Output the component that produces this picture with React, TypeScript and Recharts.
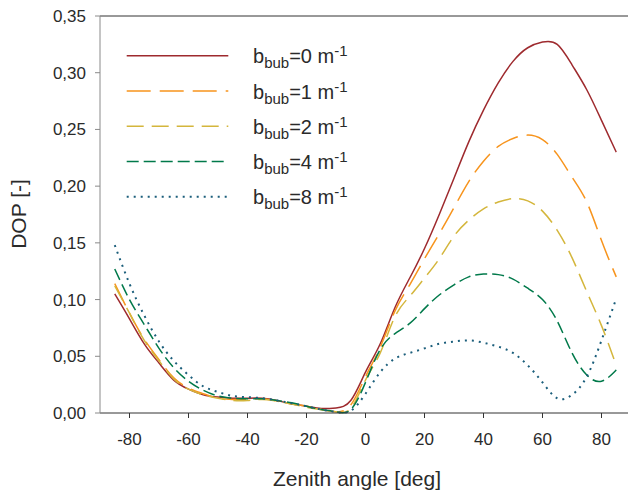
import { LineChart, Line, XAxis, YAxis, Legend, ReferenceLine, Label } from "recharts";

const ANGLES = [
  -85, -80, -75, -70, -65, -60, -55, -50, -45, -40, -35, -30, -25, -20, -15, -10, -5, 0, 5, 10, 15, 20, 25, 30, 35, 40,
  45, 50, 55, 60, 65, 70, 75, 80, 85,
];

const DOP_B0 = [
  0.105, 0.083, 0.061, 0.044, 0.029, 0.021, 0.016, 0.014, 0.013, 0.013, 0.013, 0.011, 0.008, 0.006, 0.004, 0.0045, 0.011,
  0.036, 0.061, 0.093, 0.119, 0.145, 0.175, 0.207, 0.239, 0.267, 0.291, 0.31, 0.322, 0.327, 0.325, 0.307, 0.285, 0.258,
  0.23,
];
const DOP_B1 = [
  0.114, 0.088, 0.065, 0.047, 0.031, 0.022, 0.017, 0.013, 0.012, 0.012, 0.0125, 0.0105, 0.008, 0.006, 0.003, 0.001, 0.007,
  0.032, 0.058, 0.09, 0.113, 0.136, 0.158, 0.181, 0.204, 0.222, 0.235, 0.242, 0.245, 0.241, 0.228, 0.208, 0.186, 0.152,
  0.12,
];
const DOP_B2 = [
  0.112, 0.088, 0.064, 0.046, 0.03, 0.021, 0.016, 0.013, 0.011, 0.011, 0.012, 0.0105, 0.008, 0.005, 0.003, 0.001, 0.004,
  0.029, 0.053, 0.085, 0.103, 0.119, 0.136, 0.156, 0.17, 0.18, 0.186, 0.189, 0.187, 0.178, 0.161, 0.137, 0.107, 0.077,
  0.042,
];
const DOP_B4 = [
  0.127, 0.1, 0.078, 0.057, 0.04, 0.028, 0.02, 0.015, 0.013, 0.0125, 0.0125, 0.011, 0.009, 0.006, 0.003, 0.001, 0.003, 0.027,
  0.056, 0.07, 0.079, 0.092, 0.104, 0.113, 0.12, 0.1225, 0.122, 0.118, 0.11, 0.1, 0.081, 0.053, 0.0335, 0.028, 0.038,
];
const DOP_B8 = [
  0.148, 0.114, 0.086, 0.063, 0.046, 0.0335, 0.0235, 0.0185, 0.015, 0.014, 0.013, 0.011, 0.0085, 0.006, 0.003, 0.001, 0.002,
  0.017, 0.036, 0.048, 0.053, 0.057, 0.061, 0.063, 0.064, 0.062, 0.0585, 0.053, 0.042, 0.027, 0.013, 0.016, 0.032, 0.064,
  0.101,
];

const X_TICKS = [-80, -60, -40, -20, 0, 20, 40, 60, 80];
const Y_TICKS = [0, 0.05, 0.1, 0.15, 0.2, 0.25, 0.3, 0.35];
const B_VALUES = ["0", "1", "2", "4", "8"];

const SERIES = [
  { key: "b0", color: "#9e2a2e", dash: undefined, width: 1.5 },
  { key: "b1", color: "#f7941d", dash: "24 9", width: 1.5 },
  { key: "b2", color: "#d4b63c", dash: "17 8", width: 1.5 },
  { key: "b4", color: "#00794a", dash: "12 5", width: 1.5 },
  { key: "b8", color: "#1b5e7b", dash: "2 5", width: 2 },
];

const data = ANGLES.map((a, i) => ({
  angle: a,
  b0: DOP_B0[i],
  b1: DOP_B1[i],
  b2: DOP_B2[i],
  b4: DOP_B4[i],
  b8: DOP_B8[i],
}));

const FONT = "'Liberation Sans', Arial, sans-serif";
const TEXT = "#2a2a2a";

const fmt = (v: number) => v.toFixed(2).replace(".", ",");

function LegendBox() {
  return (
    <svg width={260} height={180} style={{ display: "block" }}>
      {SERIES.map((s, i) => {
        const y = 19.7 + i * 35.25;
        return (
          <g key={s.key}>
            <line x1={6.7} x2={108.3} y1={y} y2={y} stroke={s.color} strokeWidth={s.width} strokeDasharray={s.dash} />
            <text x={133} y={y + 7.6} fontSize={20} fill={TEXT} fontFamily={FONT}>
              <tspan>b</tspan>
              <tspan fontSize={15} dy={5}>
                bub
              </tspan>
              <tspan dy={-5}>{`=${B_VALUES[i]} m`}</tspan>
              <tspan fontSize={15} dy={-7}>
                -1
              </tspan>
            </text>
          </g>
        );
      })}
    </svg>
  );
}

export default function App() {
  return (
    <div style={{ position: "absolute", left: 0, top: 0, width: 628, height: 492, overflow: "hidden", background: "#fff" }}>
      <LineChart width={640} height={492} data={data} margin={{ top: 16, right: 9, left: 0, bottom: 0 }}>
        <XAxis
          dataKey="angle"
          type="number"
          domain={[-90, 90]}
          ticks={X_TICKS}
          height={79}
          tickSize={5}
          tickMargin={15}
          stroke="#333"
          tick={{ fontSize: 17, fill: TEXT, fontFamily: FONT }}
        >
          <Label
            content={() => (
              <text x={357} y={486} textAnchor="middle" fontSize={21} fill={TEXT} fontFamily={FONT}>
                Zenith angle [deg]
              </text>
            )}
          />
        </XAxis>
        <YAxis
          type="number"
          domain={[0, 0.35]}
          ticks={Y_TICKS}
          width={100}
          tickSize={5}
          tickMargin={9}
          stroke="#8a8a8a"
          tickFormatter={fmt}
          tick={{ fontSize: 17, fill: TEXT, fontFamily: FONT }}
        >
          <Label
            content={() => (
              <text
                x={18}
                y={214}
                transform="rotate(-90 18 214)"
                textAnchor="middle"
                dominantBaseline="central"
                fontSize={21}
                fill={TEXT}
                fontFamily={FONT}
              >
                DOP [-]
              </text>
            )}
          />
        </YAxis>
        <ReferenceLine y={0.35} stroke="#333" strokeWidth={1} />
        <Legend
          layout="horizontal"
          verticalAlign="middle"
          align="center"
          wrapperStyle={{ left: 120, top: 36, width: 260, height: 180 }}
          content={() => <LegendBox />}
        />
        {SERIES.map((s) => (
          <Line
            key={s.key}
            type="natural"
            dataKey={s.key}
            stroke={s.color}
            strokeWidth={s.width}
            strokeDasharray={s.dash}
            dot={false}
            activeDot={false}
            isAnimationActive={false}
            legendType="none"
          />
        ))}
      </LineChart>
    </div>
  );
}
